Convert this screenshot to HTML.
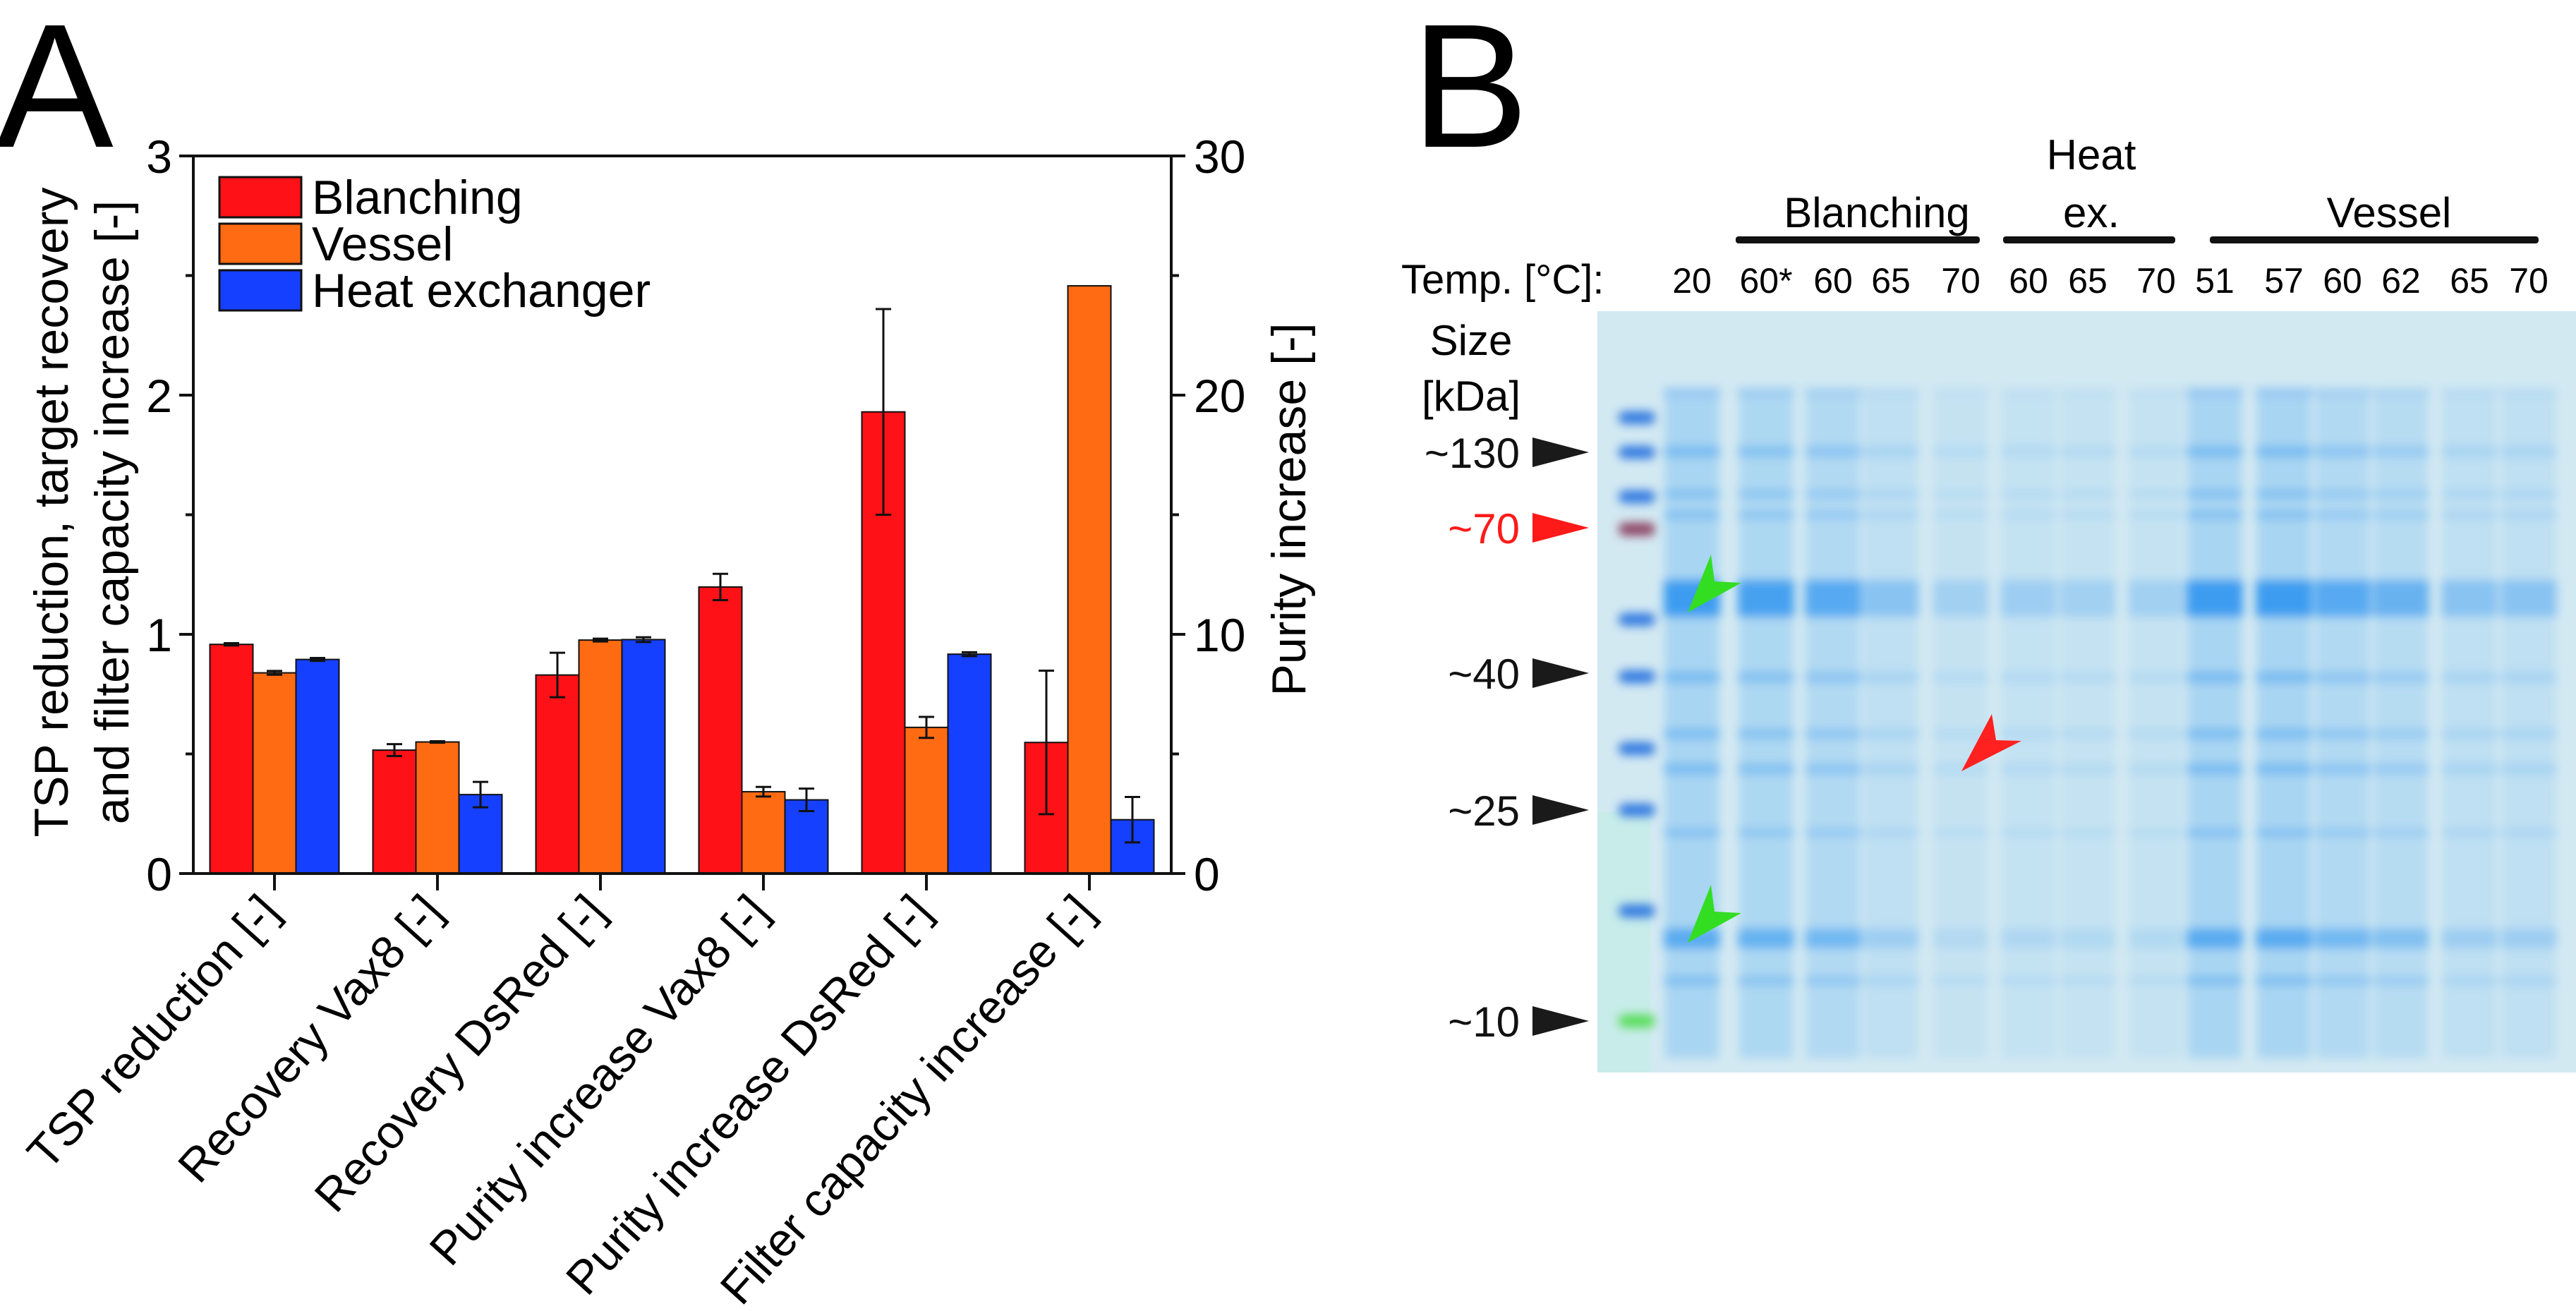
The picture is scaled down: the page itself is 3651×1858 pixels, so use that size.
<!DOCTYPE html>
<html><head><meta charset="utf-8"><style>
body{margin:0;background:#fff}
svg{display:block;font-family:"Liberation Sans",Arial,sans-serif}
</style></head><body>
<svg id="fig" width="3651" height="1858" viewBox="0 0 3651 1858" xmlns="http://www.w3.org/2000/svg">
<defs>
<filter id="blur" x="-20%" y="-50%" width="140%" height="200%"><feGaussianBlur stdDeviation="7"/></filter>
</defs>
<text x="-6" y="208" font-size="250">A</text>
<text x="2000" y="208" font-size="250">B</text>
<g id="chart"></g>
<g id="gel"></g>
</svg>
<script>
const categories=["TSP reduction [-]","Recovery Vax8 [-]","Recovery DsRed [-]","Purity increase Vax8 [-]","Purity increase DsRed [-]","Filter capacity increase [-]"];
const seriesNames=["Blanching","Vessel","Heat exchanger"];
const seriesColors=["#ff1118","#ff6b12","#1540ff"];
const blanching=[0.958,0.516,0.83,1.198,1.93,0.548];
const vessel=[0.839,0.55,0.976,0.342,0.611,2.457];
const heatEx=[0.895,0.33,0.978,0.308,0.917,0.225];
const blanchingErr=[0.005,0.025,0.093,0.055,0.43,0.3];
const vesselErr=[0.008,0.003,0.006,0.02,0.044,0];
const heatErr=[0.006,0.053,0.01,0.047,0.008,0.095];
const leftTicks=["0","1","2","3"];
const rightTicks=["0","10","20","30"];

const NS="http://www.w3.org/2000/svg";
function mk(p,tag,at,txt){const e=document.createElementNS(NS,tag);for(const k in at)e.setAttribute(k,at[k]);if(txt!==undefined)e.textContent=txt;p.appendChild(e);return e;}
const chart=document.getElementById('chart');
const L=274,R=1660,T=221,B=1238,yMax=3;
const y=v=>B-(v/yMax)*(B-T);
const xc=i=>L+115+i*231;
const bw=61;
const series=[blanching,vessel,heatEx],errs=[blanchingErr,vesselErr,heatErr];
series.forEach((s,si)=>{s.forEach((v,i)=>{
 const x=xc(i)-1.5*bw+si*bw;
 const r=mk(chart,'rect',{x:x,y:y(v),width:bw,height:B-y(v),fill:seriesColors[si],stroke:'#111','stroke-width':2});
 
 
 const e=errs[si][i];
 if(e>0){const cx=x+bw/2;
  const g=mk(chart,'g',{stroke:'#111','stroke-width':3});
  
  
  mk(g,'line',{x1:cx,x2:cx,y1:y(v+e),y2:y(v-e)});
  mk(g,'line',{x1:cx-11,x2:cx+11,y1:y(v+e),y2:y(v+e)});
  mk(g,'line',{x1:cx-11,x2:cx+11,y1:y(v-e),y2:y(v-e)});}
});});
const ax=mk(chart,'rect',{x:L,y:T,width:R-L,height:B-T,fill:'none',stroke:'#111','stroke-width':4});


leftTicks.forEach((t,i)=>{const v=+t;const yy=y(v);
 mk(chart,'line',{x1:L-20,x2:L,y1:yy,y2:yy,stroke:'#111','stroke-width':4});
 const tx=mk(chart,'text',{x:L-30,y:yy+24,'font-size':66,'text-anchor':'end'},t);
 
 
 if(i<3){const ym=y(v+0.5);mk(chart,'line',{x1:L-11,x2:L,y1:ym,y2:ym,stroke:'#111','stroke-width':4});}
});
rightTicks.forEach((t,i)=>{const v=+t/10;const yy=y(v);
 mk(chart,'line',{x1:R,x2:R+20,y1:yy,y2:yy,stroke:'#111','stroke-width':4});
 const tx=mk(chart,'text',{x:R+32,y:yy+24,'font-size':66},t);
 
 
 if(i<3){const ym=y(v+0.5);mk(chart,'line',{x1:R,x2:R+11,y1:ym,y2:ym,stroke:'#111','stroke-width':4});}
});
categories.forEach((c,i)=>{const x=xc(i);
 mk(chart,'line',{x1:x,x2:x,y1:B,y2:B+24,stroke:'#111','stroke-width':4});
 const tx=mk(chart,'text',{x:x+10,y:B+56,'font-size':66,'text-anchor':'end',transform:`rotate(-48 ${x+10} ${B+56})`},c);
 
 
});
seriesNames.forEach((n,i)=>{const yy=251+i*66;
 const r=mk(chart,'rect',{x:311,y:yy,width:116,height:57,fill:seriesColors[i],stroke:'#111','stroke-width':3});
 
 
 const tx=mk(chart,'text',{x:442,y:yy+52,'font-size':68},n);
 
 
});
const yt=mk(chart,'text',{'font-size':68,'text-anchor':'middle',transform:'translate(96 726) rotate(-90)'},'TSP reduction, target recovery');


const yt2=mk(chart,'text',{'font-size':68,'text-anchor':'middle',transform:'translate(182 726) rotate(-90)'},'and filter capacity increase [-]');


const yr=mk(chart,'text',{'font-size':68,'text-anchor':'middle',transform:'translate(1850 722) rotate(-90)'},'Purity increase [-]');



// ---- gel panel ----
const gel=document.getElementById('gel');
const GL=2264,GT=441,GR=3651,GB=1520;
mk(gel,'rect',{x:GL,y:GT,width:GR-GL,height:GB-GT,fill:'#d3e9f2'});
mk(gel,'rect',{x:GL,y:1150,width:75,height:GB-1150,fill:'#c8ecea'});
const laneLabels=["20","60*","60","65","70","60","65","70","51","57","60","62","65","70"];
const laneX=[2398,2503,2598,2680,2779,2875,2959,3056,3139,3237,3320,3403,3500,3584];
const laneStrength=[1,0.85,0.7,0.3,0.12,0.15,0.13,0.13,1,1,0.7,0.55,0.3,0.3];
const bg=mk(gel,'g',{filter:'url(#blur)'});
laneX.forEach((x,i)=>{const s=laneStrength[i];
 mk(bg,'rect',{x:x-38,y:560,width:76,height:940,fill:'#8cc8f2','fill-opacity':0.15+0.45*s});
 [[556,6],[640,8],[700,5],[730,5],[848,26],[960,8],[1040,7],[1090,8],[1180,5],[1330,14],[1390,6]].forEach(([by,h],k)=>{
  const op=k===4?Math.min(1,0.15+0.9*s):(k===9?0.05+0.7*s:0.08+0.35*s);
  mk(bg,'rect',{x:x-40,y:by-h,width:80,height:h*2,fill:'#3d9cf0','fill-opacity':op});
 });
});
const ladderY=[592,641,704,750,878,959,1061,1148,1291,1447];
ladderY.forEach((by,k)=>{mk(bg,'rect',{x:2294,y:by-9,width:52,height:18,rx:9,fill:k===3?'#8a4060':(k===9?'#55dd55':'#2f78e0')});});
[[2420,822],[2420,1290]].forEach(([ax,ay])=>{const p=mk(gel,'path',{d:`M${ax-28} ${ay+46} L${ax+5} ${ay-36} L${ax+10} ${ay+2} L${ax+48} ${ay+4} Z`,fill:'#33dd22'});
 
 });
const ra=mk(gel,'path',{d:'M2780 1093 L2823 1012 L2829 1049 L2865 1050 Z',fill:'#ff2020'});


laneLabels.forEach((t,i)=>{const tx=mk(gel,'text',{x:laneX[i],y:415,'font-size':50,'text-anchor':'middle'},t);
 
 });
const tl=mk(gel,'text',{x:1986,y:416,'font-size':58},'Temp. [°C]:');


[["Blanching",2460,2806,2660],["ex.",2839,3083,2964],["Vessel",3132,3598,3386]].forEach(([t,a,b,c])=>{
 const ln=mk(gel,'rect',{x:a,y:335,width:b-a,height:10,rx:4,fill:'#111'});
 
 
 const tx=mk(gel,'text',{x:c,y:322,'font-size':60,'text-anchor':'middle'},t);
 
 });
const ht=mk(gel,'text',{x:2964,y:240,'font-size':60,'text-anchor':'middle'},'Heat');


const s1=mk(gel,'text',{x:2085,y:503,'font-size':60,'text-anchor':'middle'},'Size');


const s2=mk(gel,'text',{x:2085,y:582,'font-size':60,'text-anchor':'middle'},'[kDa]');


[["~130",641,'#111'],["~70",748,'#ff1a1a'],["~40",954,'#111'],["~25",1148,'#111'],["~10",1447,'#111']].forEach(([t,yy,c])=>{
 const tx=mk(gel,'text',{x:2154,y:yy+22,'font-size':60,'text-anchor':'end',fill:c},t);
 
 
 const p=mk(gel,'path',{d:`M2172 ${yy-21} L2252 ${yy} L2172 ${yy+21} Z`,fill:c==='#111'?'#1a1a1a':c});
 
 });
</script>
</body></html>
